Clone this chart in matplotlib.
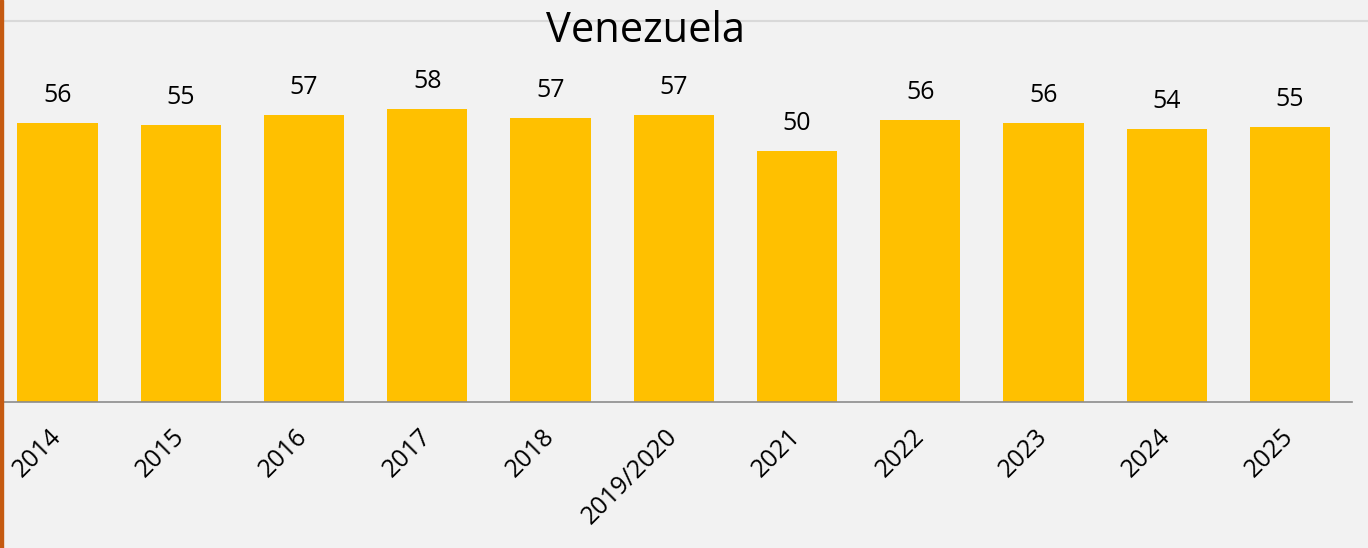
import matplotlib

matplotlib.use("Agg")
import matplotlib.pyplot as plt
from matplotlib.lines import Line2D
from matplotlib.patches import Rectangle

plt.rcParams["font.family"] = ["Open Sans", "DejaVu Sans"]

years = ["2014", "2015", "2016", "2017", "2018", "2019/2020",
         "2021", "2022", "2023", "2024", "2025"]
scores = [55.6, 55.2, 57.2, 58.4, 56.6, 57.2, 50.0, 56.2, 55.6, 54.4, 54.8]

BG = "#F2F2F2"
fig = plt.figure(figsize=(13.68, 5.48), dpi=100, facecolor=BG)
ax = fig.add_axes([0.0, 1 - 402 / 548, 1352 / 1368, 351.4 / 548])
ax.set_facecolor(BG)

x = range(len(years))
ax.bar(x, scores, width=0.65, color="#FFC000", zorder=2)
for i, v in zip(x, scores):
    ax.annotate(f"{v:.0f}", (i, v), xytext=(0, 19.5), textcoords="offset points",
                ha="center", va="center", fontsize=18, color="#000000")

ax.set_xlim(-0.4665, 10.503)
ax.set_ylim(0, 70)
ax.set_yticks([])
ax.set_xticks(list(x))
ax.set_xticklabels(years, rotation=45, ha="right", va="center",
                   rotation_mode="anchor", fontsize=18)
ax.tick_params(axis="x", length=0, pad=22)
for s in ["top", "left", "right"]:
    ax.spines[s].set_visible(False)
ax.spines["bottom"].set_color("#8C8C8C")
ax.spines["bottom"].set_linewidth(1.2)

# top rule, left accent and title
fig.add_artist(Line2D([0, 1], [1 - 21 / 548] * 2, color="#D9D9D9", lw=1.5, zorder=1))
fig.add_artist(Rectangle((0, 0), 3 / 1368, 1, color="#C55A11", zorder=5))
fig.text(645 / 1368, 1 - 42 / 548, "Venezuela", ha="center", va="baseline",
         fontsize=30, color="#000000", zorder=3)

fig.savefig("out.png", dpi=100, facecolor=BG)
